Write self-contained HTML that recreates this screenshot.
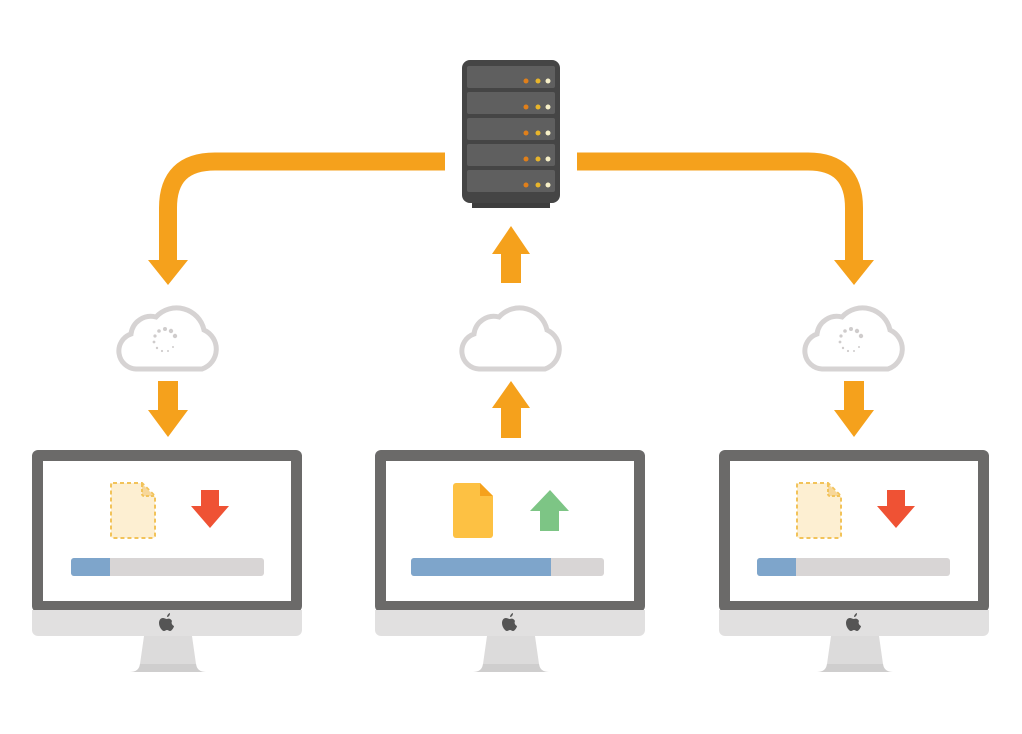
<!DOCTYPE html>
<html><head><meta charset="utf-8"><style>html,body{margin:0;padding:0;background:#fff}svg{display:block}</style></head>
<body>
<svg width="1022" height="734" viewBox="0 0 1022 734" xmlns="http://www.w3.org/2000/svg">
<defs>
<g id="cloud">
<path d="M-32 33 H34 A21 21 0 0 0 36 -6 A28 28 0 0 0 -12 -19 A20 20 0 0 0 -37 -2 A18 18 0 0 0 -32 33 Z" fill="#fff" stroke="#d6d3d3" stroke-width="5"/>
</g>
<g id="spin" fill="#cfcccc">
<circle cx="0" cy="-11" r="2"/><circle cx="6" cy="-9" r="2.2"/><circle cx="10" cy="-4" r="2.2"/>
<circle cx="-6" cy="-9" r="1.8"/><circle cx="-10" cy="-4" r="1.6"/><circle cx="-11" cy="2" r="1.4"/>
<circle cx="-8" cy="8" r="1.2"/><circle cx="-3" cy="11" r="1.1"/><circle cx="3" cy="11" r="1"/><circle cx="8" cy="7" r="1"/>
</g>
<g id="mon">
<rect x="0" y="0" width="270" height="162" rx="6" fill="#6b6a69"/>
<rect x="11" y="11" width="248" height="140" fill="#fff"/>
<path d="M0 160 H270 V180 a6 6 0 0 1 -6 6 H6 a6 6 0 0 1 -6 -6 Z" fill="#e1e0e0"/>
<path d="M112 186 H160 L164 214 Q165 222 174 222 H98 Q107 222 108 214 Z" fill="#dcdbdb"/>
<path d="M108 214 Q107 222 98 222 H174 Q165 222 164 214 Z" fill="#cfcece"/>
<g transform="translate(135,173)" fill="#555">
<path d="M-4 -5 C-7 -5 -8 -2 -8 0 C-8 4 -5 8 -3 8 C-2 8 -1 7 0 7 C1 7 2 8 3 8 C5 8 7 4 7 3 C5 2 4 0 5 -2 C4 -4 2 -5 0 -4 C-1 -4 -3 -5 -4 -5 Z"/>
<path d="M0 -6 C0 -8 2 -10 3 -10 C3 -8 2 -6 0 -6 Z"/>
</g>
</g>
<g id="ghost">
<path d="M2 0 H31 L44 13 V53 a2 2 0 0 1 -2 2 H2 a2 2 0 0 1 -2 -2 V2 a2 2 0 0 1 2 -2 Z" fill="#fdefd2" stroke="#f2c35a" stroke-width="2" stroke-dasharray="4 3"/>
<path d="M31 1 L43 13 H33 a2 2 0 0 1 -2 -2 Z" fill="#f7d79a"/>
<path d="M31 1 V11 a2 2 0 0 0 2 2 H43" fill="none" stroke="#f2c35a" stroke-width="2" stroke-dasharray="3 2"/>
</g>
<g id="redarr"><path d="M10 0 H28 V16 H38 L19 38 L0 16 H10 Z" fill="#ef5234"/></g>
</defs>

<path d="M445 161.5 H215 Q168 161.5 168 208 V262" fill="none" stroke="#f5a11c" stroke-width="18"/>
<path d="M148 260 H188 L168 285 Z" fill="#f5a11c"/>
<path d="M577 161.5 H808 Q854 161.5 854 208 V262" fill="none" stroke="#f5a11c" stroke-width="18"/>
<path d="M834 260 H874 L854 285 Z" fill="#f5a11c"/>
<path d="M501 283 V254 H492 L511 226 L530 254 H521 V283 Z" fill="#f5a11c"/>

<rect x="472" y="196" width="78" height="12" fill="#3e3e3e"/>
<rect x="462" y="60" width="98" height="143" rx="8" fill="#454545"/>
<g fill="#5f5f5f">
<rect x="467" y="66" width="88" height="22" rx="2"/>
<rect x="467" y="92" width="88" height="22" rx="2"/>
<rect x="467" y="118" width="88" height="22" rx="2"/>
<rect x="467" y="144" width="88" height="22" rx="2"/>
<rect x="467" y="170" width="88" height="22" rx="2"/>
</g>
<g>
<g fill="#e07f1a"><circle cx="526" cy="81" r="2.5"/><circle cx="526" cy="107" r="2.5"/><circle cx="526" cy="133" r="2.5"/><circle cx="526" cy="159" r="2.5"/><circle cx="526" cy="185" r="2.5"/></g>
<g fill="#e8b52a"><circle cx="538" cy="81" r="2.5"/><circle cx="538" cy="107" r="2.5"/><circle cx="538" cy="133" r="2.5"/><circle cx="538" cy="159" r="2.5"/><circle cx="538" cy="185" r="2.5"/></g>
<g fill="#f7f0c8"><circle cx="548" cy="81" r="2.5"/><circle cx="548" cy="107" r="2.5"/><circle cx="548" cy="133" r="2.5"/><circle cx="548" cy="159" r="2.5"/><circle cx="548" cy="185" r="2.5"/></g>
</g>

<use href="#cloud" transform="translate(168,336)"/>
<use href="#spin" transform="translate(165,340)"/>
<use href="#cloud" transform="translate(511,336)"/>
<use href="#cloud" transform="translate(854,336)"/>
<use href="#spin" transform="translate(851,340)"/>

<path d="M158 381 H178 V410 H188 L168 437 L148 410 H158 Z" fill="#f5a11c"/>
<path d="M844 381 H864 V410 H874 L854 437 L834 410 H844 Z" fill="#f5a11c"/>
<path d="M501 438 V408 H492 L511 381 L530 408 H521 V438 Z" fill="#f5a11c"/>

<use href="#mon" transform="translate(32,450)"/>
<use href="#mon" transform="translate(375,450)"/>
<use href="#mon" transform="translate(719,450)"/>

<use href="#ghost" transform="translate(111,483)"/>
<use href="#redarr" transform="translate(191,490)"/>
<rect x="71" y="558" width="193" height="18" rx="3" fill="#d8d5d5"/>
<path d="M74 558 H110 V576 H74 a3 3 0 0 1 -3 -3 V561 a3 3 0 0 1 3 -3 Z" fill="#7ea5cb"/>

<path d="M456 483 H480 L493 496 V535 a3 3 0 0 1 -3 3 H456 a3 3 0 0 1 -3 -3 V486 a3 3 0 0 1 3 -3 Z" fill="#fdc143"/>
<path d="M480 483 V496 H493 Z" fill="#f5a11c"/>
<path d="M540 531 V511 H530 L550 490 L569 511 H559 V531 Z" fill="#7dc585"/>
<rect x="411" y="558" width="193" height="18" rx="3" fill="#d8d5d5"/>
<path d="M414 558 H551 V576 H414 a3 3 0 0 1 -3 -3 V561 a3 3 0 0 1 3 -3 Z" fill="#7ea5cb"/>

<use href="#ghost" transform="translate(797,483)"/>
<use href="#redarr" transform="translate(877,490)"/>
<rect x="757" y="558" width="193" height="18" rx="3" fill="#d8d5d5"/>
<path d="M760 558 H796 V576 H760 a3 3 0 0 1 -3 -3 V561 a3 3 0 0 1 3 -3 Z" fill="#7ea5cb"/>
</svg>
</body></html>
